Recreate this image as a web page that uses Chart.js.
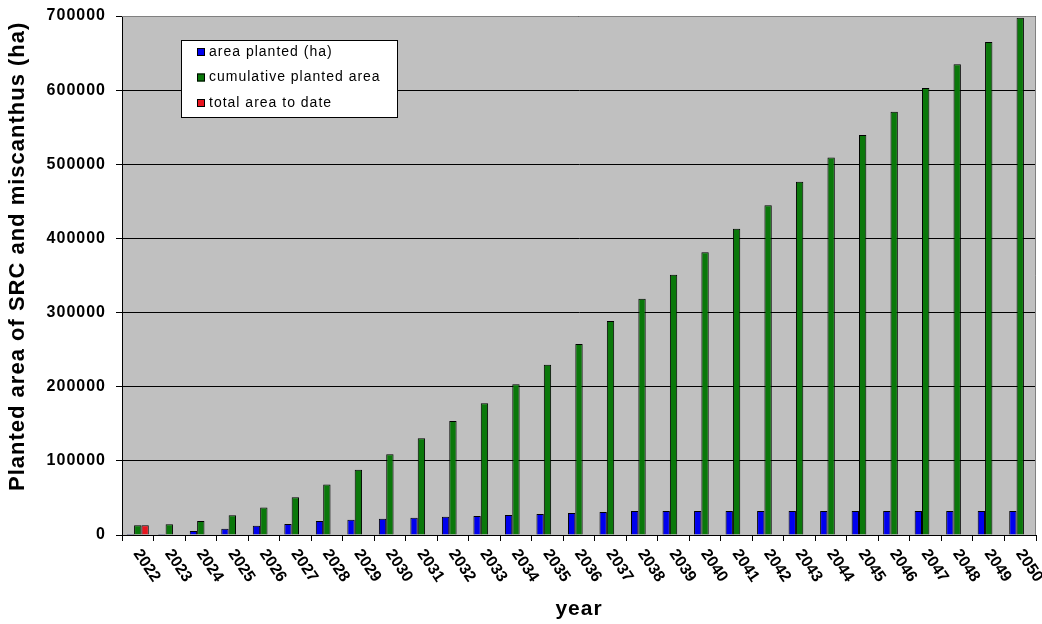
<!DOCTYPE html>
<html>
<head>
<meta charset="utf-8">
<script src="https://cdn.jsdelivr.net/npm/chart.js@4/dist/chart.umd.min.js"></script>
<style>
  html, body { margin: 0; padding: 0; background: #ffffff; }
  #wrap { width: 1042px; height: 624px; position: relative; }
</style>
</head>
<body>
<div id="wrap"><canvas id="plantedChart"></canvas></div>
<script>
const years = ['2022', '2023', '2024', '2025', '2026', '2027', '2028', '2029', '2030', '2031',
    '2032', '2033', '2034', '2035', '2036', '2037', '2038', '2039', '2040', '2041',
    '2042', '2043', '2044', '2045', '2046', '2047', '2048', '2049', '2050'];

const areaPlanted = [1500, 1500, 5500, 8500, 12500, 15000, 19000, 20500, 22000, 23300,
    24700, 25600, 27000, 28300, 29700, 31000, 32400, 32400, 32400, 32400,
    32400, 32400, 32400, 32400, 32400, 32400, 32400, 32400, 32400];

const cumulativeArea = [13000, 14500, 19000, 26500, 37000, 51000, 68000, 88000, 108800, 130400,
    153700, 177600, 203200, 229700, 257600, 288600, 318700, 351100, 381300, 413100,
    444700, 476500, 509000, 539500, 571000, 603000, 635000, 665000, 697700];

const totalToDate = [13000, null, null, null, null, null, null, null, null, null,
    null, null, null, null, null, null, null, null, null, null,
    null, null, null, null, null, null, null, null, null];

const yTicks = [0, 100000, 200000, 300000, 400000, 500000, 600000, 700000];

const yTitle = 'Planted area of SRC and miscanthus (ha)';

const FONT = "Arial, 'Liberation Sans', sans-serif";

// grey plot background, grey top/right frame, slightly spaced lettering
const plotBackground = {
    id: 'plotBackground',
    beforeDraw(chart) {
        const { ctx, chartArea: a } = chart;
        ctx.letterSpacing = '1px';
        ctx.save();
        ctx.fillStyle = '#c0c0c0';
        ctx.fillRect(a.left, a.top, a.right - a.left, a.bottom - a.top);
        ctx.restore();
    },
    afterDraw(chart) {
        const { ctx, chartArea: a } = chart;
        ctx.save();
        ctx.strokeStyle = '#808080';
        ctx.lineWidth = 1;
        ctx.beginPath();
        ctx.moveTo(a.left, a.top + 0.5);
        ctx.lineTo(a.right - 0.5, a.top + 0.5);
        ctx.lineTo(a.right - 0.5, a.bottom);
        ctx.stroke();
        ctx.restore();
    }
};

// slanted year labels and the vertical axis title
const axisText = {
    id: 'axisText',
    afterDraw(chart) {
        const { ctx, chartArea: a } = chart;
        const x = chart.scales.x;
        ctx.save();
        ctx.letterSpacing = '0px';
        ctx.fillStyle = '#000';
        ctx.font = 'bold 16px ' + FONT;
        ctx.textAlign = 'left';
        ctx.textBaseline = 'middle';
        chart.data.labels.forEach((lab, i) => {
            const px = x.getPixelForTick(i);
            ctx.save();
            ctx.translate(px - 1, x.top + 16);
            ctx.rotate(56 * Math.PI / 180);
            ctx.fillText(lab, 0, 0);
            ctx.restore();
        });

        ctx.letterSpacing = '1px';
        ctx.font = 'bold 22px ' + FONT;
        ctx.textAlign = 'center';
        ctx.translate(18, a.top + (a.bottom - a.top) * 0.463);
        ctx.rotate(-Math.PI / 2);
        ctx.fillText(yTitle, 0, 0);
        ctx.restore();
    }
};

// boxed legend inside the plot area
const boxLegend = {
    id: 'boxLegend',
    afterDraw(chart) {
        const { ctx, chartArea: a } = chart;
        const bx = a.left + 59, by = a.top + 24, bw = 216, bh = 77;
        ctx.save();
        ctx.fillStyle = '#fff';
        ctx.fillRect(bx, by, bw, bh);
        ctx.strokeStyle = '#000';
        ctx.lineWidth = 1;
        ctx.strokeRect(bx + 0.5, by + 0.5, bw, bh);
        ctx.font = '14px ' + FONT;
        ctx.letterSpacing = '1px';
        ctx.textBaseline = 'middle';
        chart.data.datasets.forEach((ds, i) => {
            const cy = by + 12 + i * 25.5;
            ctx.fillStyle = ds.backgroundColor;
            ctx.fillRect(bx + 16, cy - 4, 8, 8);
            ctx.strokeStyle = '#000';
            ctx.strokeRect(bx + 16.5, cy - 3.5, 7, 7);
            ctx.fillStyle = '#000';
            ctx.fillText(ds.label, bx + 28, cy);
        });
        ctx.restore();
    }
};

const ctx = document.getElementById('plantedChart').getContext('2d');

new Chart(ctx, {
    type: 'bar',
    data: {
        labels: years,
        datasets: [{
            label: 'area planted (ha)',
            data: areaPlanted,
            backgroundColor: '#0000ee',
            borderColor: '#000',
            borderWidth: 1
        }, {
            label: 'cumulative planted area',
            data: cumulativeArea,
            backgroundColor: '#0a780a',
            borderColor: '#000',
            borderWidth: 1
        }, {
            label: 'total area to date',
            data: totalToDate,
            backgroundColor: '#e8141e',
            borderColor: '#000',
            borderWidth: 1
        }]
    },
    options: {
        responsive: true,
        maintainAspectRatio: false,
        animation: false,
        datasets: {
            bar: { categoryPercentage: 0.7, barPercentage: 1.0 }
        },
        layout: { padding: { top: 16, right: 6, left: 0, bottom: 0 } },
        plugins: {
            legend: { display: false },
            tooltip: { enabled: false }
        },
        scales: {
            x: {
                grid: {
                    display: true,
                    offset: true,
                    drawOnChartArea: false,
                    drawTicks: true,
                    tickLength: 6,
                    color: '#000'
                },
                border: { color: '#000', width: 1 },
                ticks: { display: false },
                title: {
                    display: true,
                    text: 'year',
                    color: '#000',
                    font: { family: FONT, size: 21, weight: 'bold' },
                    padding: { top: 0, bottom: 2 }
                },
                afterFit(scale) {
                    scale.height = 89;
                    scale.paddingLeft = 0;
                    scale.paddingRight = 0;
                }
            },
            y: {
                min: 0,
                max: 700000,
                afterBuildTicks(scale) {
                    scale.ticks = yTicks.map(v => ({ value: v }));
                },
                grid: {
                    color: '#000',
                    lineWidth: 1,
                    drawTicks: true,
                    tickLength: 6,
                    tickColor: '#000'
                },
                border: { color: '#000', width: 1 },
                ticks: {
                    color: '#000',
                    padding: 10,
                    font: { family: FONT, size: 16, weight: 'bold' },
                    callback: function (value) {
                        return String(value);
                    }
                },
                afterFit(scale) {
                    scale.width = 122;
                    scale.paddingTop = 0;
                    scale.paddingBottom = 0;
                }
            }
        }
    },
    plugins: [plotBackground, axisText, boxLegend]
});
</script>
</body>
</html>
